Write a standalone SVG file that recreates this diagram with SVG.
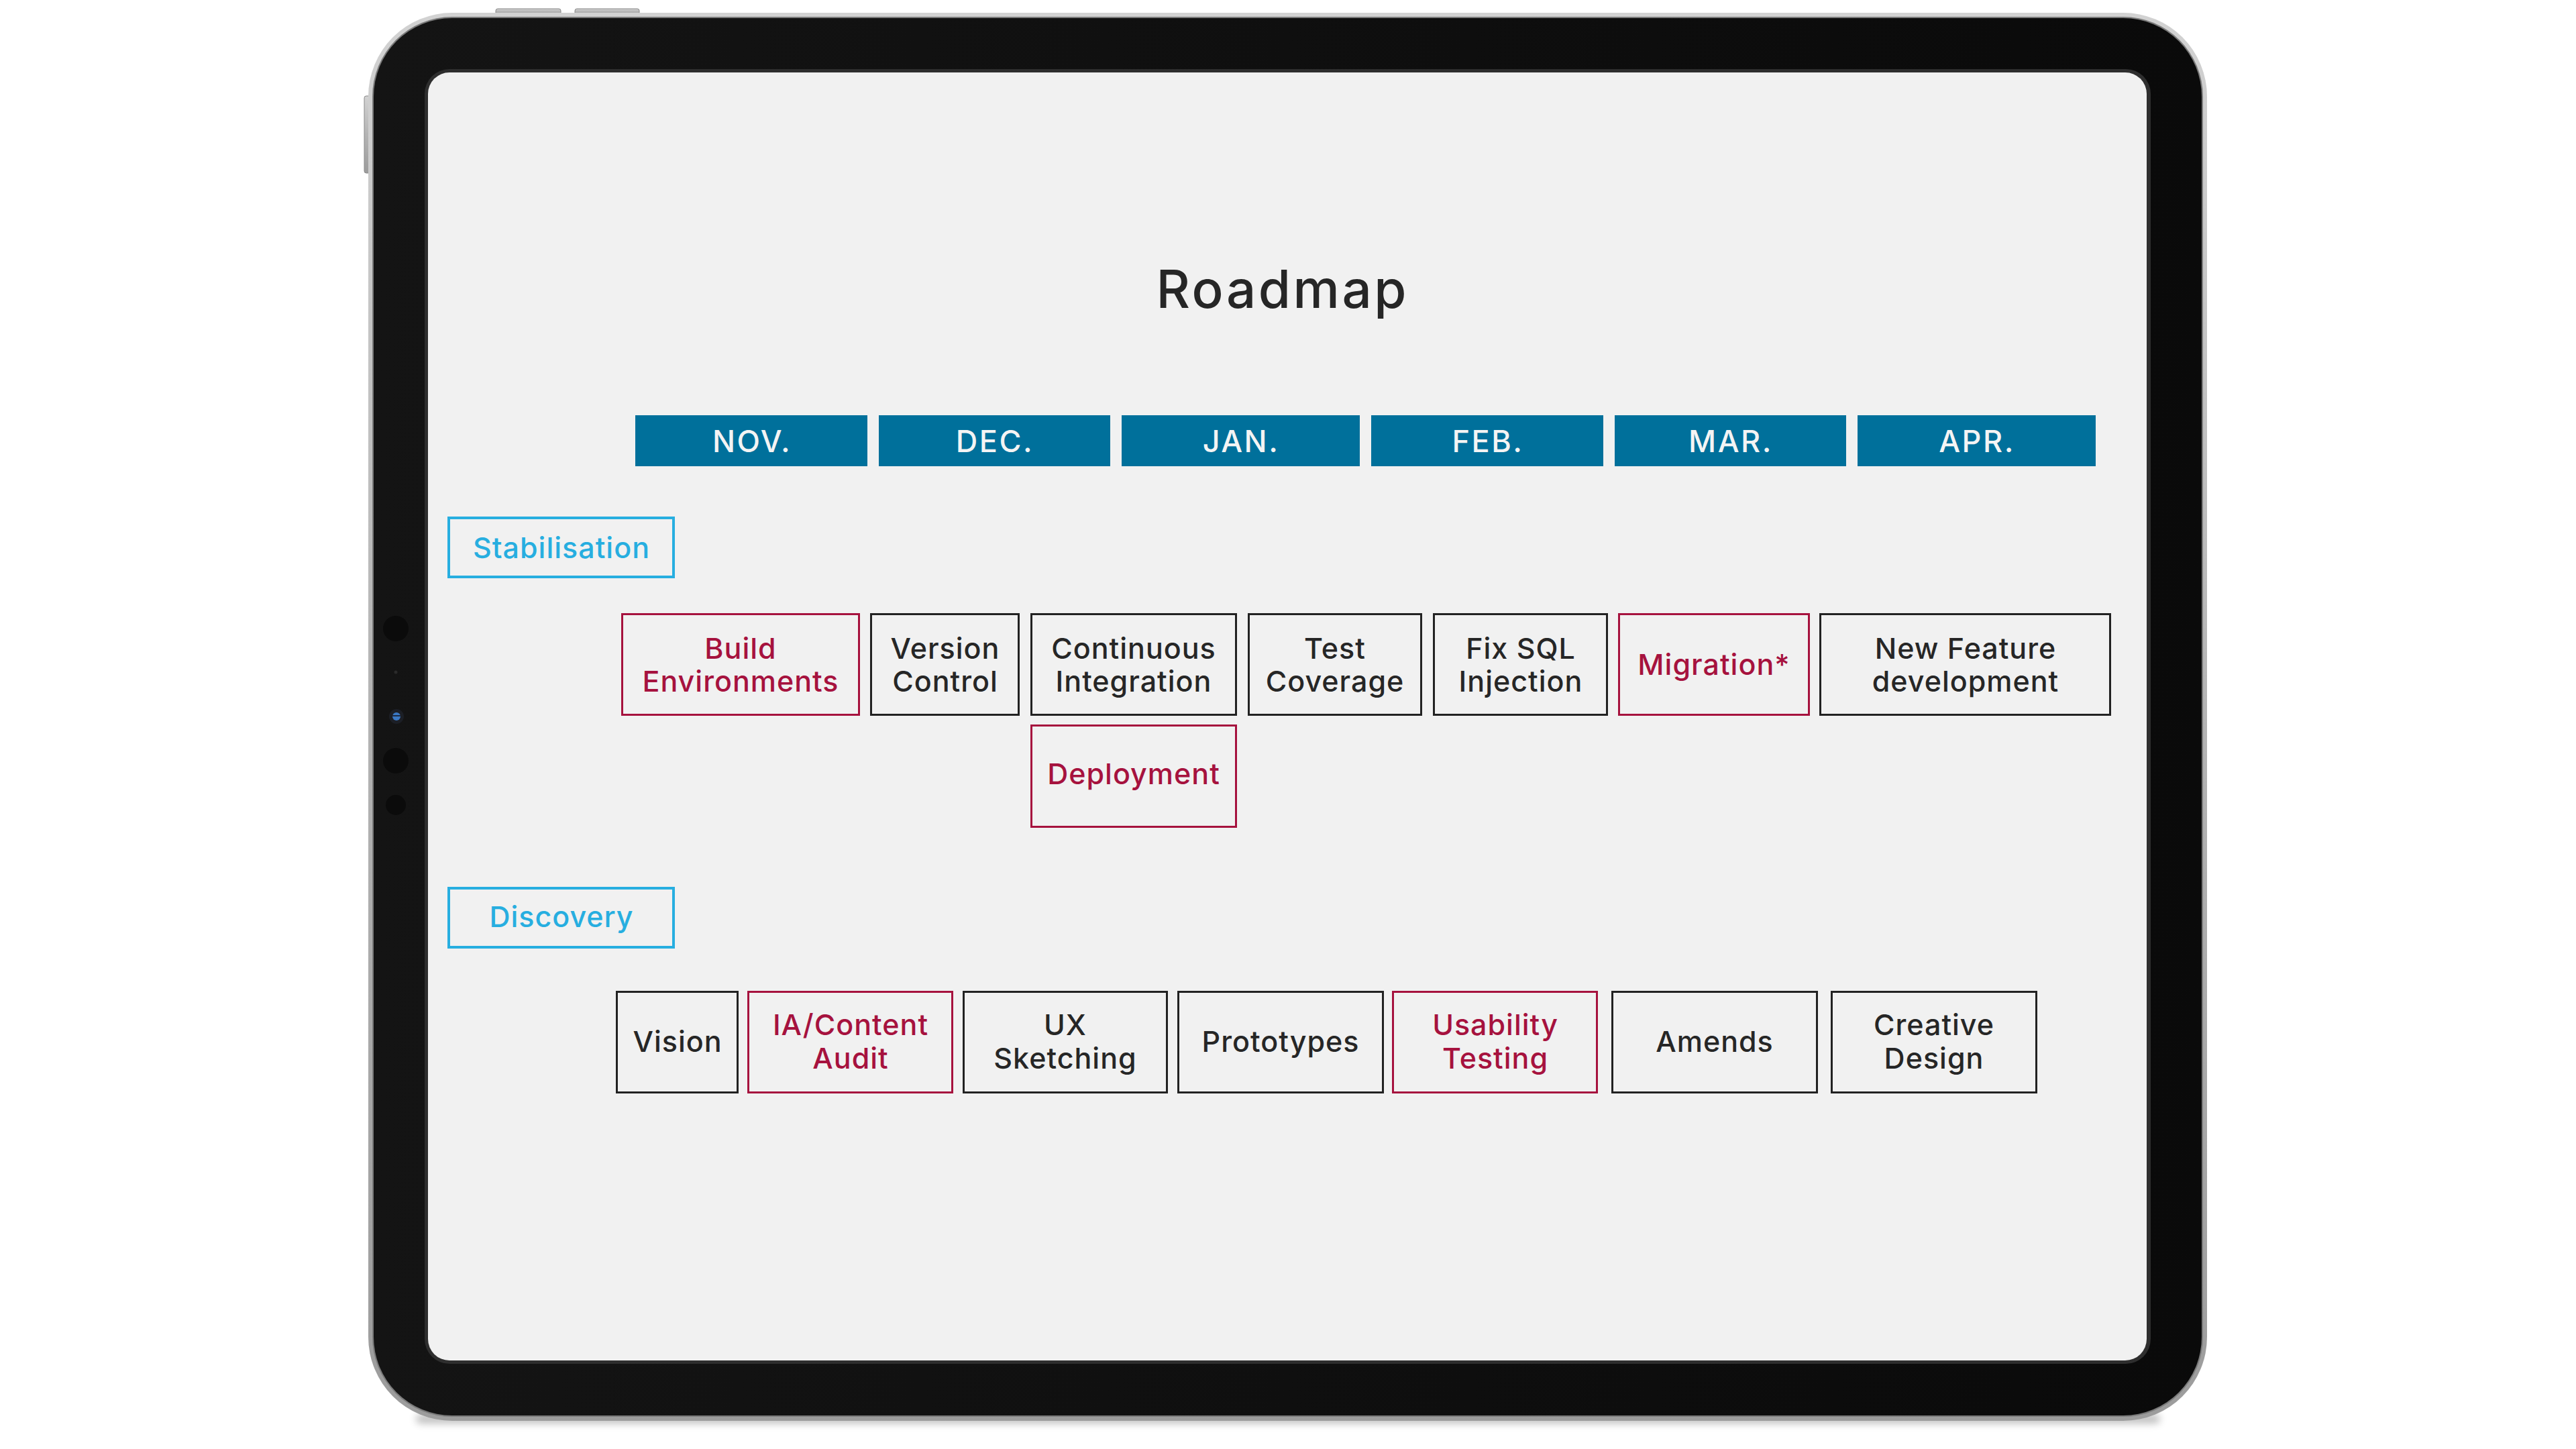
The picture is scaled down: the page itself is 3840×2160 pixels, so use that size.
<svg xmlns="http://www.w3.org/2000/svg" width="3840" height="2160" viewBox="0 0 3840 2160">
<defs>
<linearGradient id="silver" x1="0" y1="0" x2="0" y2="1">
<stop offset="0" stop-color="#d2d2d2"/>
<stop offset="0.5" stop-color="#b4b4b4"/>
<stop offset="1" stop-color="#9c9c9c"/>
</linearGradient>
<linearGradient id="bezel" x1="0" y1="0" x2="1" y2="0">
<stop offset="0" stop-color="#141414"/>
<stop offset="1" stop-color="#0a0a0a"/>
</linearGradient>
<filter id="blur" x="-10%" y="-200%" width="120%" height="500%">
<feGaussianBlur stdDeviation="6"/>
</filter>
<style>
.box{fill:none;stroke:#222222;stroke-width:3}
.red{stroke:#a6123e}
.t{font-family:Inter,"Open Sans","Liberation Sans",sans-serif;font-size:43px;font-weight:500;text-anchor:middle;fill:#262626;letter-spacing:1px}
.tr{fill:#a6123e}
.month{fill:#00709b}
.mt{font-family:Inter,"Open Sans","Liberation Sans",sans-serif;font-size:45px;font-weight:500;text-anchor:middle;fill:#f4f4f4;letter-spacing:2.5px}
.sec{fill:none;stroke:#27aee0;stroke-width:4}
.st{fill:#27aee0}
.btn{fill:url(#silver);stroke:#8a8a8a;stroke-width:1}
.hole{fill:#0b0b0b}
</style>
</defs>
<rect width="3840" height="2160" fill="#ffffff"/>

<g id="device">
<rect x="620" y="2108" width="2600" height="14" rx="7" fill="#000" opacity="0.25" filter="url(#blur)"/>
<rect class="btn" x="739" y="13" width="97" height="9" rx="3"/>
<rect class="btn" x="857" y="13" width="96" height="9" rx="3"/>
<rect class="btn" x="543" y="143" width="9" height="115" rx="3"/>
<rect x="549" y="19" width="2741" height="2099" rx="125" fill="url(#silver)"/>
<rect x="555" y="25" width="2729" height="2087" rx="119" fill="#7a7a7a"/>
<rect x="557" y="27" width="2725" height="2083" rx="117" fill="url(#bezel)"/>
<rect x="633" y="103" width="2573" height="1930" rx="37" fill="#2e2e2e"/>
<rect x="638" y="108" width="2562" height="1920" rx="32" fill="#f1f1f1"/>
<circle class="hole" cx="590" cy="937" r="19"/>
<circle cx="590" cy="1002" r="2.5" fill="#2a2a2a"/>
<circle cx="591" cy="1068" r="11" fill="#1c1f26"/>
<circle cx="591" cy="1068" r="6" fill="#3a78c4"/>
<rect x="585" y="1066" width="12" height="2" fill="#1c2a44"/>
<circle class="hole" cx="590" cy="1134" r="19"/>
<circle class="hole" cx="590" cy="1200" r="15"/>
</g>

<g id="title">
<text x="1910" y="459" font-family="Inter,'Open Sans','Liberation Sans',sans-serif" font-size="78" font-weight="500" fill="#262626" text-anchor="middle" textLength="373" lengthAdjust="spacing">Roadmap</text>
</g>

<g id="months">
<g id="m-nov"><rect class="month" x="947" y="619" width="346" height="76"/><text class="mt" x="1121" y="674">NOV.</text></g>
<g id="m-dec"><rect class="month" x="1310" y="619" width="345" height="76"/><text class="mt" x="1483" y="674">DEC.</text></g>
<g id="m-jan"><rect class="month" x="1672" y="619" width="355" height="76"/><text class="mt" x="1850" y="674">JAN.</text></g>
<g id="m-feb"><rect class="month" x="2044" y="619" width="346" height="76"/><text class="mt" x="2218" y="674">FEB.</text></g>
<g id="m-mar"><rect class="month" x="2407" y="619" width="345" height="76"/><text class="mt" x="2580" y="674">MAR.</text></g>
<g id="m-apr"><rect class="month" x="2769" y="619" width="355" height="76"/><text class="mt" x="2947" y="674">APR.</text></g>
</g>

<g id="sec-stabilisation"><rect class="sec" x="669" y="772" width="335" height="88"/><text class="t st" x="837" y="832">Stabilisation</text></g>
<g id="sec-discovery"><rect class="sec" x="669" y="1324" width="335" height="88"/><text class="t st" x="837" y="1382">Discovery</text></g>

<g id="n-build"><rect class="box red" x="927.5" y="915.5" width="353" height="150"/><text class="t tr" x="1104" y="982">Build</text><text class="t tr" x="1104" y="1031">Environments</text></g>
<g id="n-version"><rect class="box" x="1298.5" y="915.5" width="220" height="150"/><text class="t" x="1409" y="982">Version</text><text class="t" x="1409" y="1031">Control</text></g>
<g id="n-ci"><rect class="box" x="1537.5" y="915.5" width="305" height="150"/><text class="t" x="1690" y="982">Continuous</text><text class="t" x="1690" y="1031">Integration</text></g>
<g id="n-test"><rect class="box" x="1861.5" y="915.5" width="257" height="150"/><text class="t" x="1990" y="982">Test</text><text class="t" x="1990" y="1031">Coverage</text></g>
<g id="n-sql"><rect class="box" x="2137.5" y="915.5" width="258" height="150"/><text class="t" x="2267" y="982">Fix SQL</text><text class="t" x="2267" y="1031">Injection</text></g>
<g id="n-migration"><rect class="box red" x="2413.5" y="915.5" width="283" height="150"/><text class="t tr" x="2555" y="1006">Migration*</text></g>
<g id="n-newfeature"><rect class="box" x="2713.5" y="915.5" width="432" height="150"/><text class="t" x="2930" y="982">New Feature</text><text class="t" x="2930" y="1031">development</text></g>
<g id="n-deployment"><rect class="box red" x="1537.5" y="1081.5" width="305" height="151"/><text class="t tr" x="1690" y="1169">Deployment</text></g>

<g id="n-vision"><rect class="box" x="919.5" y="1478.5" width="180" height="150"/><text class="t" x="1010" y="1568">Vision</text></g>
<g id="n-ia"><rect class="box red" x="1115.5" y="1478.5" width="304" height="150"/><text class="t tr" x="1268" y="1543">IA/Content</text><text class="t tr" x="1268" y="1593">Audit</text></g>
<g id="n-ux"><rect class="box" x="1436.5" y="1478.5" width="303" height="150"/><text class="t" x="1588" y="1543">UX</text><text class="t" x="1588" y="1593">Sketching</text></g>
<g id="n-proto"><rect class="box" x="1756.5" y="1478.5" width="305" height="150"/><text class="t" x="1909" y="1568">Prototypes</text></g>
<g id="n-usability"><rect class="box red" x="2076.5" y="1478.5" width="304" height="150"/><text class="t tr" x="2229" y="1543">Usability</text><text class="t tr" x="2229" y="1593">Testing</text></g>
<g id="n-amends"><rect class="box" x="2403.5" y="1478.5" width="305" height="150"/><text class="t" x="2556" y="1568">Amends</text></g>
<g id="n-creative"><rect class="box" x="2730.5" y="1478.5" width="305" height="150"/><text class="t" x="2883" y="1543">Creative</text><text class="t" x="2883" y="1593">Design</text></g>

<g id="connectors"/>
</svg>
